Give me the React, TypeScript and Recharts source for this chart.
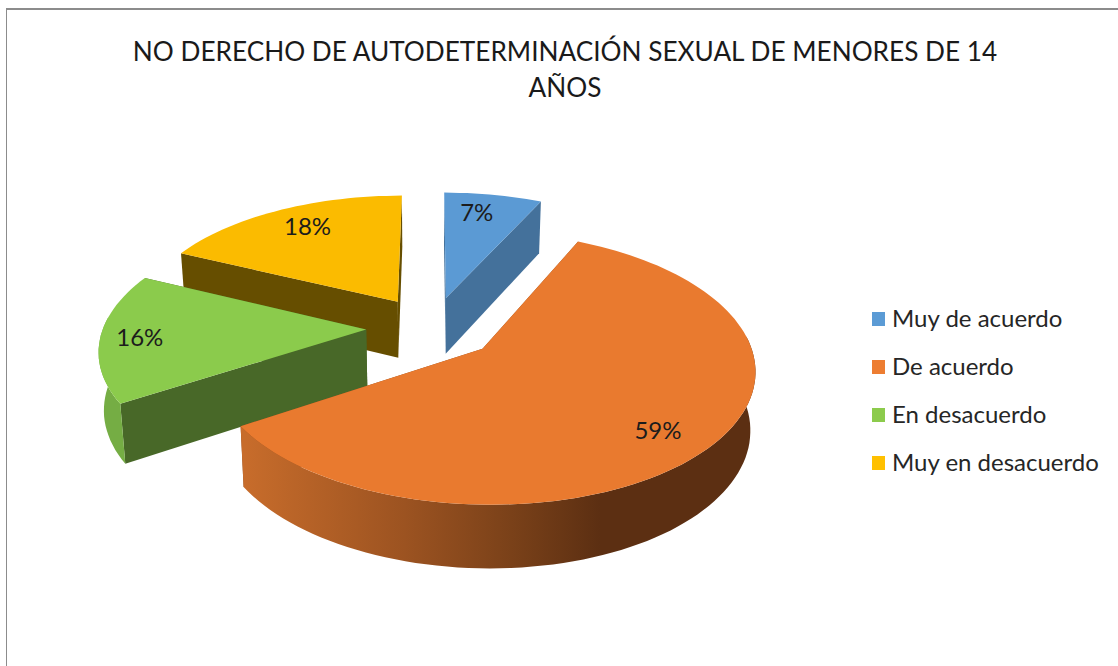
import { Legend, Pie, PieChart } from "recharts";

const categories = ["Muy de acuerdo", "De acuerdo", "En desacuerdo", "Muy en desacuerdo"];
const percentages = [7, 59, 16, 18];
const topColors = ["#5B9AD4", "#E97A2F", "#8BCB4C", "#FBBB00"];
const legendColors = ["#5B9BD5", "#ED7D31", "#8CCB4C", "#FFC000"];
const wallColors = ["#44719B", "#8A4A1E", "#486828", "#664E00"];
const rimColors = ["#4F86B8", "url(#orangeRim)", "#75AD44", "#D9A400"];
const titleLines = ["NO DERECHO DE AUTODETERMINACIÓN SEXUAL DE MENORES DE 14", "AÑOS"];

// slices are painted back to front, so the table runs the opposite way round
const rows = categories
  .map((name, i) => ({
    name,
    value: percentages[i],
    fill: legendColors[i],
    top: topColors[i],
    wall: wallColors[i],
    rim: rimColors[i],
  }))
  .reverse();

const font = "Lato, Carlito, sans-serif";
const CX = 432;
const CY = 327.5;
const RADIUS = 263;
const TILT = 0.4856;
const PERSPECTIVE = 0.14;
const EXPLODE_X = 0.25;
const EXPLODE_Y = 0.245;
const DEPTH = 57;
const labelRadius: Record<string, number> = {
  "Muy de acuerdo": 0.8,
  "De acuerdo": 0.79,
  "En desacuerdo": 0.86,
  "Muy en desacuerdo": 0.78,
};
// small hand nudges, the original labels are not exactly on the slice's mid line
const labelNudge: Record<string, number[]> = {
  "Muy de acuerdo": [-8, -2],
  "De acuerdo": [-1, 5],
  "En desacuerdo": [2, 0],
  "Muy en desacuerdo": [5, -3],
};

const toRad = (deg: number) => (deg * Math.PI) / 180;

// tilted-disc projection of a point on a slice, angle in recharts degrees
function project(angle: number, mid: number, r: number, cx: number, cy: number, R: number, down = false) {
  const u = EXPLODE_X * Math.cos(toRad(mid)) + r * Math.cos(toRad(angle));
  const v = EXPLODE_Y * Math.sin(toRad(mid)) + r * Math.sin(toRad(angle));
  const s = 1 / (1 + PERSPECTIVE * v);
  const x = u * R * s;
  const y = v * R * TILT * s;
  if (!down) return [cx + x, cy - y];
  return [cx + x * 0.984, cy - y + DEPTH / (1 + 0.09 * v)];
}

function toPath(points: number[][]) {
  return points.map((p, i) => `${i ? "L" : "M"}${p[0].toFixed(1)},${p[1].toFixed(1)}`).join(" ") + " Z";
}

function Slice3D(props: any) {
  const { cx, cy, outerRadius, startAngle, endAngle, name } = props;
  const row = rows.find((d) => d.name === name)!;
  const mid = (startAngle + endAngle) / 2;
  const steps = Math.ceil((endAngle - startAngle) / 2);
  const angles = Array.from({ length: steps + 1 }, (_, i) => startAngle + ((endAngle - startAngle) * i) / steps);
  const pt = (a: number, r: number, down = false) => project(a, mid, r, cx, cy, outerRadius, down);

  const topArc = angles.map((a) => pt(a, 1));
  // only the part of the outer rim that faces the viewer
  const frontAngles = angles.filter((a) => Math.sin(toRad(a)) < 0.1);
  const rimPoints = [...frontAngles.map((a) => pt(a, 1)), ...frontAngles.map((a) => pt(a, 1, true)).reverse()];
  const wall = (a: number) => [pt(a, 0), pt(a, 1), pt(a, 1, true), pt(a, 0, true)];

  return (
    <g>
      <defs>
        <linearGradient id="orangeRim" gradientUnits="userSpaceOnUse" x1="245" y1="0" x2="600" y2="0">
          <stop offset="0" stopColor="#C76C2B" />
          <stop offset="0.45" stopColor="#9C5321" />
          <stop offset="0.75" stopColor="#7A4119" />
          <stop offset="1" stopColor="#5C2F12" />
        </linearGradient>
      </defs>
      <path d={toPath(wall(startAngle))} fill={row.wall} />
      <path d={toPath(wall(endAngle))} fill={row.wall} />
      {rimPoints.length > 0 && <path d={toPath(rimPoints)} fill={row.rim} />}
      <path d={toPath([pt(startAngle, 0), ...topArc])} fill={row.top} />
    </g>
  );
}

function SliceLabel(props: any) {
  const { cx, cy, outerRadius, midAngle, name, value } = props;
  const [x, y] = project(midAngle, midAngle, labelRadius[name], cx, cy, outerRadius);
  const [dx, dy] = labelNudge[name];
  return (
    <text x={x + dx} y={y + dy} textAnchor="middle" dominantBaseline="central" fontFamily={font} fontSize={24} fill="#1c1c1c">
      {`${value}%`}
    </text>
  );
}

function LegendList({ payload }: any) {
  const items = [...(payload ?? [])].sort((a: any, b: any) => categories.indexOf(a.value) - categories.indexOf(b.value));
  return (
    <div>
      {items.map((item: any) => (
        <div key={item.value} style={{ display: "flex", alignItems: "center", height: 48 }}>
          <span style={{ width: 13, height: 14, marginRight: 7, background: item.color }} />
          <span style={{ position: "relative", top: -1.5, fontFamily: font, fontSize: 24, color: "#262626", whiteSpace: "nowrap" }}>
            {item.value}
          </span>
        </div>
      ))}
    </div>
  );
}

export default function App() {
  return (
    <div style={{ position: "absolute", left: 0, top: 0, width: 1118, height: 666, background: "#fff", overflow: "hidden" }}>
      {/* frame, only its top and left edges are in the picture */}
      <div
        style={{
          position: "absolute",
          left: 6,
          top: 8,
          right: 0,
          bottom: 0,
          borderLeft: "1px solid #8c8c8c",
          borderTop: "2px solid #8c8c8c",
        }}
      />
      {/* Title */}
      <div
        style={{
          position: "absolute",
          left: 0,
          top: 33,
          width: 1130,
          textAlign: "center",
          fontFamily: font,
          fontSize: 26.2,
          lineHeight: "36px",
          color: "#1a1a1a",
        }}
      >
        {titleLines.map((line) => (
          <div key={line}>{line}</div>
        ))}
      </div>
      <PieChart width={1118} height={666} margin={{ top: 0, right: 0, bottom: 0, left: 0 }} style={{ position: "absolute", left: 0, top: 0 }}>
        <Pie
          data={rows}
          dataKey="value"
          nameKey="name"
          cx={CX}
          cy={CY}
          innerRadius={0}
          outerRadius={RADIUS}
          startAngle={90}
          endAngle={450}
          stroke="none"
          shape={Slice3D}
          label={SliceLabel}
          labelLine={false}
          isAnimationActive={false}
        />
        <Legend
          layout="vertical"
          content={LegendList}
          wrapperStyle={{ position: "absolute", left: 872, top: 295, width: 240 }}
        />
      </PieChart>
    </div>
  );
}
